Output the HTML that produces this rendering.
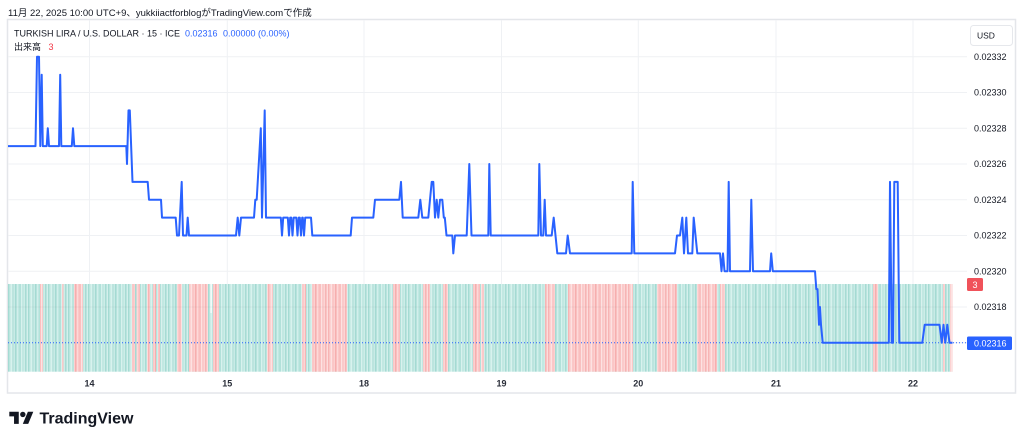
<!DOCTYPE html>
<html>
<head>
<meta charset="utf-8">
<style>
  html,body{margin:0;padding:0;background:#ffffff;}
  body{width:1024px;height:442px;overflow:hidden;position:relative;}
  svg{position:absolute;left:0;top:0;}
  text{font-family:"Liberation Sans","Noto Sans CJK JP",sans-serif;}
</style>
</head>
<body>
<svg width="1024" height="442" viewBox="0 0 1024 442" xmlns="http://www.w3.org/2000/svg">
  <defs>
    <pattern id="tp" x="8" y="0" width="20" height="442" patternUnits="userSpaceOnUse">
      <rect x="0" y="0" width="20" height="442" fill="#c6eae5"/>
      <rect x="0" y="0" width="1.43" height="442" fill="#a5dbd3"/>
      <rect x="1.43" y="0" width="1.43" height="442" fill="#c8ebe6"/>
      <rect x="2.86" y="0" width="1.43" height="442" fill="#d8f2ee"/>
      <rect x="4.29" y="0" width="1.43" height="442" fill="#b4e1da"/>
      <rect x="5.71" y="0" width="1.43" height="442" fill="#c8ebe6"/>
      <rect x="7.14" y="0" width="1.43" height="442" fill="#9fd8d0"/>
      <rect x="8.57" y="0" width="1.43" height="442" fill="#d2efeb"/>
      <rect x="10" y="0" width="1.43" height="442" fill="#c0e8e2"/>
      <rect x="11.43" y="0" width="1.43" height="442" fill="#a9ddd5"/>
      <rect x="12.86" y="0" width="1.43" height="442" fill="#d8f2ee"/>
      <rect x="14.29" y="0" width="1.43" height="442" fill="#bce5df"/>
      <rect x="15.71" y="0" width="1.43" height="442" fill="#cdede8"/>
      <rect x="17.14" y="0" width="1.43" height="442" fill="#a2d9d1"/>
      <rect x="18.57" y="0" width="1.43" height="442" fill="#d4f0ec"/>
    </pattern>
    <pattern id="rp" x="8" y="0" width="20" height="442" patternUnits="userSpaceOnUse">
      <rect x="0" y="0" width="20" height="442" fill="#fcd0d0"/>
      <rect x="0" y="0" width="1.43" height="442" fill="#f7b4b4"/>
      <rect x="1.43" y="0" width="1.43" height="442" fill="#fcd0d0"/>
      <rect x="2.86" y="0" width="1.43" height="442" fill="#fde2e2"/>
      <rect x="4.29" y="0" width="1.43" height="442" fill="#f9c0c0"/>
      <rect x="5.71" y="0" width="1.43" height="442" fill="#fcd0d0"/>
      <rect x="7.14" y="0" width="1.43" height="442" fill="#f5a9a9"/>
      <rect x="8.57" y="0" width="1.43" height="442" fill="#fdd9d9"/>
      <rect x="10" y="0" width="1.43" height="442" fill="#fbc8c8"/>
      <rect x="11.43" y="0" width="1.43" height="442" fill="#f8b8b8"/>
      <rect x="12.86" y="0" width="1.43" height="442" fill="#fde2e2"/>
      <rect x="14.29" y="0" width="1.43" height="442" fill="#fac4c4"/>
      <rect x="15.71" y="0" width="1.43" height="442" fill="#fcd5d5"/>
      <rect x="17.14" y="0" width="1.43" height="442" fill="#f6afaf"/>
      <rect x="18.57" y="0" width="1.43" height="442" fill="#fddcdc"/>
    </pattern>
  </defs>

  <!-- header -->
  <text x="8" y="16" font-size="9.5" fill="#131722">11月 22, 2025 10:00 UTC+9、yukkiiactforblogがTradingView.comで作成</text>

  <!-- frame -->
  <rect x="7.5" y="19.5" width="1008" height="373.5" fill="#ffffff" stroke="#e4e6ea" stroke-width="1.5"/>

  <!-- grid horizontal -->
  <g stroke="#eff1f4" stroke-width="1">
    <line x1="8" y1="56.8" x2="967" y2="56.8"/>
    <line x1="8" y1="92.5" x2="967" y2="92.5"/>
    <line x1="8" y1="128.3" x2="967" y2="128.3"/>
    <line x1="8" y1="164" x2="967" y2="164"/>
    <line x1="8" y1="199.7" x2="967" y2="199.7"/>
    <line x1="8" y1="235.5" x2="967" y2="235.5"/>
    <line x1="8" y1="271.2" x2="967" y2="271.2"/>
    <line x1="8" y1="307" x2="967" y2="307"/>
    <line x1="8" y1="342.7" x2="967" y2="342.7"/>
  </g>
  <!-- grid vertical -->
  <g stroke="#eff1f4" stroke-width="1">
    <line x1="89.5" y1="20" x2="89.5" y2="372"/>
    <line x1="227.3" y1="20" x2="227.3" y2="372"/>
    <line x1="364" y1="20" x2="364" y2="372"/>
    <line x1="501.5" y1="20" x2="501.5" y2="372"/>
    <line x1="638.3" y1="20" x2="638.3" y2="372"/>
    <line x1="776" y1="20" x2="776" y2="372"/>
    <line x1="913" y1="20" x2="913" y2="372"/>
  </g>

  <!-- volume block -->
  <rect x="8" y="284" width="944.5" height="87.7" fill="url(#tp)"/>
  <g fill="url(#rp)">
    <rect x="40" y="284" width="3" height="87.7"/>
    <rect x="62" y="284" width="1.5" height="87.7"/>
    <rect x="74" y="284" width="9" height="87.7"/>
    <rect x="132" y="284" width="3" height="87.7"/>
    <rect x="136.5" y="284" width="3.5" height="87.7"/>
    <rect x="147" y="284" width="3" height="87.7"/>
    <rect x="153" y="284" width="3" height="87.7"/>
    <rect x="158" y="284" width="2" height="87.7"/>
    <rect x="177" y="284" width="5" height="87.7"/>
    <rect x="189" y="284" width="19" height="87.7"/>
    <rect x="213" y="284" width="6" height="87.7"/>
    <rect x="267" y="284" width="6" height="87.7"/>
    <rect x="302" y="284" width="4" height="87.7"/>
    <rect x="312" y="284" width="35" height="87.7"/>
    <rect x="393" y="284" width="7" height="87.7"/>
    <rect x="423" y="284" width="7" height="87.7"/>
    <rect x="443" y="284" width="5" height="87.7"/>
    <rect x="473" y="284" width="7" height="87.7"/>
    <rect x="481" y="284" width="3" height="87.7"/>
    <rect x="545" y="284" width="10" height="87.7"/>
    <rect x="568" y="284" width="65" height="87.7"/>
    <rect x="657" y="284" width="20" height="87.7"/>
    <rect x="697" y="284" width="20" height="87.7"/>
    <rect x="720" y="284" width="5" height="87.7"/>
    <rect x="873" y="284" width="5" height="87.7"/>
    <rect x="943" y="284" width="2" height="87.7"/>
    <rect x="950" y="284" width="2.5" height="87.7"/>
  </g>
  <rect x="210.5" y="284" width="1.2" height="29" fill="#ffffff"/>
  <line x1="8" y1="307" x2="952.5" y2="307" stroke="rgba(0,0,0,0.04)" stroke-width="1"/>

  <!-- dotted price line -->
  <line x1="8" y1="342.7" x2="967" y2="342.7" stroke="#2962ff" stroke-width="1" stroke-dasharray="1 2"/>

  <!-- price line -->
  <path fill="none" stroke="#2962ff" stroke-width="2" stroke-linejoin="round" d="
M8,146.1 L35.5,146.1 L37,56.8 L39,56.8 L40.3,146.1 L41.7,74.7 L42.8,146.1 L46.7,146.1 L47.8,128.3 L49,146.1
L59,146.1 L60.2,74.7 L61.3,146.1 L71.8,146.1 L73,128.3 L74.3,146.1 L126.3,146.1 L127,164 L128.5,110.4 L129.8,110.4
L132.5,181.9 L147.7,181.9 L149,199.7 L161,199.7 L162,217.6 L175.7,217.6 L177,235.5 L179,235.5 L181.7,181.9 L183,235.5
L186.5,235.5 L187.7,217.6 L189,235.5 L236,235.5 L237.7,217.6 L239.3,235.5 L241,217.6 L254,217.6 L255.3,199.7 L256.7,199.7
L260.8,128.3 L262,217.6 L264.7,110.4 L266,217.6 L280.8,217.6 L282,235.5 L283.2,217.6 L287.8,217.6 L289,235.5 L290.2,217.6
L291.3,217.6 L292.5,235.5 L293.7,217.6 L296.3,217.6 L297.5,235.5 L298.7,217.6 L299.8,217.6 L301,235.5 L302.2,217.6 L302.8,217.6
L304,235.5 L305.2,217.6 L311,217.6 L312.3,235.5 L350.7,235.5 L352,217.6 L373.3,217.6 L375,199.7 L399.3,199.7 L401,181.9
L402.7,217.6 L418.3,217.6 L420.3,199.7 L422.3,217.6 L428.3,217.6 L430,199.7 L431.7,181.9 L433.3,181.9 L435,217.6 L436.7,199.7
L438.3,217.6 L440,199.7 L442.3,199.7 L443.8,217.6 L444.8,217.6 L446.5,235.5 L452.3,235.5 L453.3,253.4 L455,235.5 L466.7,235.5
L469.3,164 L471.5,235.5 L488.3,235.5 L489.3,164 L490.7,235.5 L538.3,235.5 L539.3,164 L541,235.5 L543.3,235.5 L544.7,199.7
L546,235.5 L551.7,235.5 L553.7,217.6 L557.3,253.4 L566,253.4 L567.7,235.5 L570,253.4 L631.7,253.4 L632.7,181.9 L634.3,253.4
L675,253.4 L677,235.5 L680,235.5 L682.3,217.6 L684,253.4 L686.3,217.6 L688,253.4 L692.3,253.4 L693.7,217.6 L697.3,253.4
L720,253.4 L721.5,271.2 L723,253.4 L724.5,271.2 L727.5,271.2 L728.7,181.9 L730,271.2 L750,271.2 L751.3,199.7 L753,271.2
L770,271.2 L771.2,253.4 L772.8,271.2 L815,271.2 L816.3,289.1 L817.5,289.1 L819,324.8 L820,307 L821,324.8 L822.7,342.7
L888.8,342.7 L890,181.9 L891.8,342.7 L893,342.7 L894.3,181.9 L897.7,181.9 L899.3,342.7 L922.3,342.7 L924.7,324.8 L939.5,324.8
L941.8,342.7 L943.5,324.8 L945.3,342.7 L947.3,324.8 L949.5,342.7 L952.5,342.7"/>

  <!-- legend -->
  <text x="14" y="36.5" font-size="9" fill="#131722">TURKISH LIRA / U.S. DOLLAR · 15 · ICE</text>
  <text x="185" y="36.5" font-size="9" fill="#2962ff">0.02316</text>
  <text x="223" y="36.5" font-size="9" fill="#2962ff">0.00000 (0.00%)</text>
  <text x="14" y="50" font-size="9" fill="#131722">出来高</text>
  <text x="48.5" y="50" font-size="9" fill="#f23645">3</text>

  <!-- price axis -->
  <rect x="970.5" y="25.5" width="42" height="20" rx="3" fill="#ffffff" stroke="#e6e8ec" stroke-width="1"/>
  <text x="977" y="38.5" font-size="8.5" fill="#131722">USD</text>
  <g font-size="9" fill="#131722">
    <text x="974" y="60">0.02332</text>
    <text x="974" y="95.7">0.02330</text>
    <text x="974" y="131.5">0.02328</text>
    <text x="974" y="167.2">0.02326</text>
    <text x="974" y="202.9">0.02324</text>
    <text x="974" y="238.7">0.02322</text>
    <text x="974" y="274.4">0.02320</text>
    <text x="974" y="310.2">0.02318</text>
  </g>
  <rect x="967" y="278" width="16" height="13" rx="1.5" fill="#f0525a"/>
  <text x="972.5" y="288" font-size="9" fill="#ffffff">3</text>
  <rect x="967" y="336.5" width="45" height="13.5" rx="1.5" fill="#2962ff"/>
  <text x="974" y="346.5" font-size="9" fill="#ffffff">0.02316</text>

  <!-- time axis -->
  <g font-size="9" font-weight="bold" fill="#2a2e39" text-anchor="middle">
    <text x="89.5" y="386.3">14</text>
    <text x="227.3" y="386.3">15</text>
    <text x="364" y="386.3">18</text>
    <text x="501.5" y="386.3">19</text>
    <text x="638.3" y="386.3">20</text>
    <text x="776" y="386.3">21</text>
    <text x="913" y="386.3">22</text>
  </g>

  <!-- logo -->
  <g transform="translate(9.3,409) scale(0.676)" fill="#131722">
    <path d="M14 22H7V11H0V4h14v18z"/>
    <circle cx="20" cy="8" r="4"/>
    <path d="M28 22h-8l7.5-18h8L28 22z"/>
  </g>
  <text x="39.5" y="423.5" font-size="16" font-weight="bold" fill="#131722">TradingView</text>
</svg>
</body>
</html>
